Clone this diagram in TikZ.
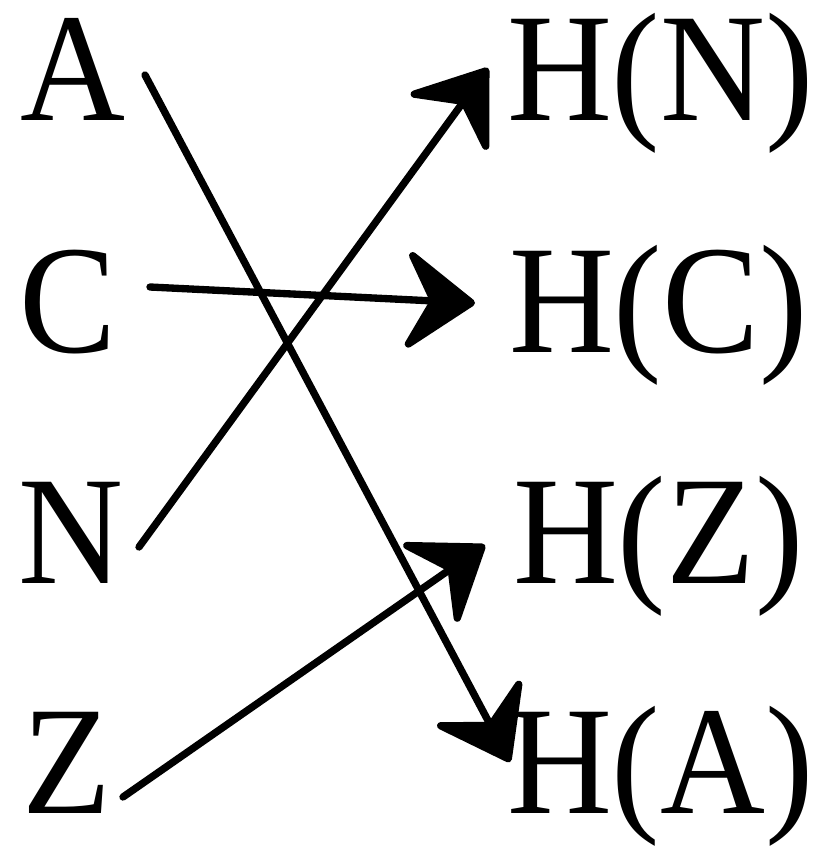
\documentclass[tikz,border=0pt]{standalone}
\usepackage{fontspec}
\setmainfont{Liberation Serif}
\usetikzlibrary{arrows.meta,calc}
\newcommand{\lbltext}[1]{\scalebox{0.94}[1]{#1}}
\tikzset{
  lbl/.style={inner sep=0pt,outer sep=0pt,anchor=base west,font=\fontsize{116}{120}\selectfont},
  sketch/.style={line width=5.5pt,line cap=round,-{Stealth[length=58pt,width=84pt,inset=22pt,round]}}
}
\begin{document}
\begin{tikzpicture}[x=0.75pt,y=-0.75pt]
\useasboundingbox (0,0) rectangle (834,847);
\node[lbl] (a) at (21,120) {\lbltext{A}};
\node[lbl] (c) at (20,352) {\lbltext{C}};
\node[lbl] (n) at (18,583) {\lbltext{N}};
\node[lbl] (z) at (22,813) {\lbltext{Z}};
\node[lbl] (hn) at (507,120) {\lbltext{H(N)}};
\node[lbl] (hc) at (509,352) {\lbltext{H(C)}};
\node[lbl] (hz) at (513,583) {\lbltext{H(Z)}};
\node[lbl] (ha) at (507,813) {\lbltext{H(A)}};
\draw[sketch] ($(a.base west)+(124,-45)$) -- ($(ha.base west)+(3,-51)$);
\draw[sketch] ($(n.base west)+(121,-36)$) -- ($(hn.base west)+(-19,-52)$);
\draw[sketch] ($(c.base west)+(130,-65)$) -- ($(hc.base west)+(-34,-49)$);
\draw[sketch] ($(z.base west)+(101,-16)$) -- ($(hz.base west)+(-28,-38)$);
\end{tikzpicture}
\end{document}
